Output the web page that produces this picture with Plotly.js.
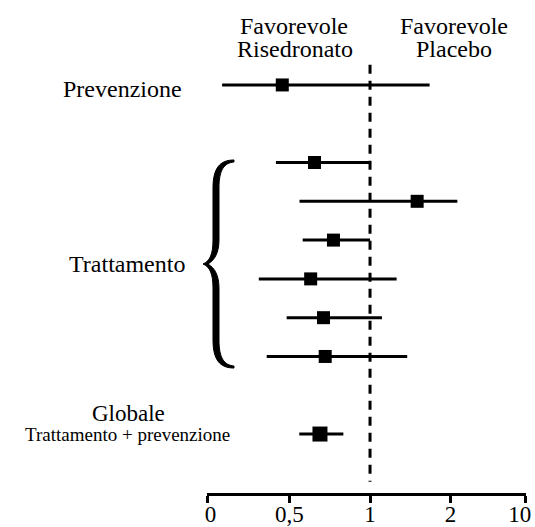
<!DOCTYPE html>
<html>
<head>
<meta charset="utf-8">
<script src="https://cdn.plot.ly/plotly-3.0.1.min.js"></script>
<style>html,body{margin:0;padding:0;background:#fff;}#chart{width:535px;height:527px;}</style>
</head>
<body>
<div id="chart"></div>
<script>
// ---- data ----
const rowGroup = ['Prevenzione', 'Trattamento', 'Trattamento', 'Trattamento', 'Trattamento', 'Trattamento', 'Trattamento', 'Globale'];
const estimate = [0.47, 0.62, 1.50, 0.73, 0.60, 0.67, 0.68, 0.65];
const ciLow    = [0.28, 0.445, 0.545, 0.56, 0.384, 0.488, 0.411, 0.544];
const ciHigh   = [1.67, 1.00, 2.12, 1.00, 1.257, 1.108, 1.377, 0.795];
const tickValues = [0.247, 0.5, 1, 2, 3.81];
const tickLabels = ['\u00a00', '0,5', '1', '2', '10\u00a0\u00a0'];
const headerLeft = ['Favorevole', 'Risedronato'];
const headerRight = ['Favorevole', 'Placebo'];
const groupTitles = {Prevenzione: 'Prevenzione', Trattamento: 'Trattamento', Globale: 'Globale'};
const globalSubtitle = 'Trattamento + prevenzione';
const referenceValue = 1;

// ---- layout helpers ----
const W = 535, H = 527;
const L = 207, R = 9, T = 0, B = 34;
const plotW = W - L - R, plotH = H - T - B;
const px = p => (p - L) / plotW;           // pixel x -> paper x
const py = p => (H - B - p) / plotH;       // pixel y -> paper y

// row slots: leave one empty slot between groups
const slots = [];
let s = 0;
rowGroup.forEach((g, i) => {
  if (i > 0 && g !== rowGroup[i - 1]) s += 1;
  slots.push(s);
  s += 1;
});
const FONT = 'Liberation Serif';

const trace = {
  type: 'scatter',
  mode: 'markers',
  x: estimate,
  y: slots,
  marker: {symbol: 'square', size: rowGroup.map(g => g === 'Globale' ? 15 : 13), color: '#000', opacity: 1,
           line: {width: 0}},
  error_x: {
    type: 'data', symmetric: false,
    array: ciHigh.map((h, i) => h - estimate[i]),
    arrayminus: ciLow.map((l, i) => estimate[i] - l),
    thickness: 3, width: 0, color: '#000'
  },
  hoverinfo: 'skip',
  cliponaxis: false
};
const refLine = {
  type: 'scatter', mode: 'lines',
  x: [referenceValue, referenceValue], y: [-0.52, 10.23],
  line: {color: '#000', width: 3, dash: '9px,7px'},
  hoverinfo: 'skip', cliponaxis: false
};

// brace path (pixel anchors converted to paper), drawn as a filled calligraphic shape
function P(x, y) { return px(x).toFixed(4) + ',' + py(y).toFixed(4); }
const brace = 'M' + P(234, 160) +
  ' C' + P(220, 160) + ' ' + P(213, 168) + ' ' + P(213, 188) +
  ' L' + P(213, 240) +
  ' C' + P(213, 254) + ' ' + P(210, 261) + ' ' + P(203, 264) +
  ' C' + P(210, 267) + ' ' + P(213, 274) + ' ' + P(213, 288) +
  ' L' + P(213, 340) +
  ' C' + P(213, 360) + ' ' + P(220, 368) + ' ' + P(234, 368) +
  ' L' + P(234, 366) +
  ' C' + P(224, 365) + ' ' + P(219, 358) + ' ' + P(219, 340) +
  ' L' + P(219, 288) +
  ' C' + P(219, 276) + ' ' + P(215, 268) + ' ' + P(208, 264) +
  ' C' + P(215, 260) + ' ' + P(219, 252) + ' ' + P(219, 240) +
  ' L' + P(219, 188) +
  ' C' + P(219, 170) + ' ' + P(224, 163) + ' ' + P(234, 162) + ' Z';

function ann(text, x, y, size) {
  return {text: text, xref: 'paper', yref: 'paper', x: px(x), y: py(y),
    xanchor: 'center', yanchor: 'middle', showarrow: false,
    font: {family: FONT, size: size, color: '#000'}};
}

const eps = 0.002;
const layout = {
  width: W, height: H,
  margin: {l: L, r: R, t: T, b: B},
  paper_bgcolor: '#fff', plot_bgcolor: '#fff',
  showlegend: false,
  xaxis: {
    type: 'log',
    range: [Math.log10(tickValues[0]) - eps, Math.log10(tickValues[4]) + eps],
    tickmode: 'array', tickvals: tickValues, ticktext: tickLabels,
    showline: true, linecolor: '#000', linewidth: 3,
    ticks: 'outside', ticklen: 7, tickwidth: 3, tickcolor: '#000',
    showgrid: false, zeroline: false,
    ticklabelstandoff: -9,
    ticklabeloverflow: 'allow',
    tickfont: {family: FONT, size: 23, color: '#000'},
    fixedrange: true
  },
  yaxis: {range: [10.52, -2.19], visible: false, fixedrange: true},
  shapes: [{type: 'path', xref: 'paper', yref: 'paper', path: brace,
    fillcolor: '#000', line: {color: '#000', width: 1}}],
  annotations: [
    ann(headerLeft[0], 294, 26, 24),
    ann(headerLeft[1], 295, 49, 24),
    ann(headerRight[0], 454, 26, 24),
    ann(headerRight[1], 454, 49, 24),
    ann(groupTitles.Prevenzione, 122, 89, 24),
    ann(groupTitles.Trattamento, 127, 264, 24),
    ann(groupTitles.Globale, 128, 413, 23),
    ann(globalSubtitle, 127, 434, 19)
  ]
};

Plotly.newPlot('chart', [trace, refLine], layout, {displayModeBar: false, staticPlot: true});
</script>
</body>
</html>
